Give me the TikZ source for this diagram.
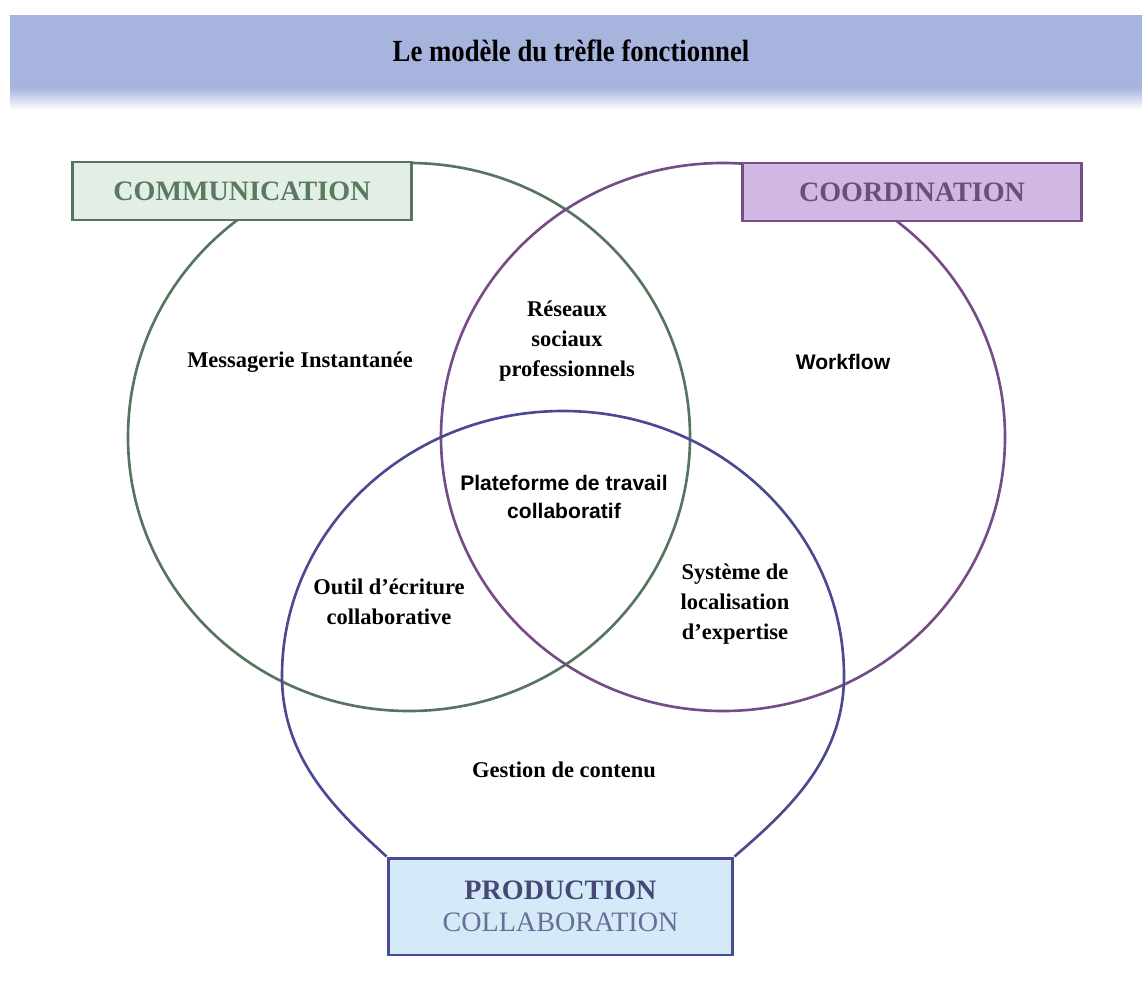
\documentclass[tikz,border=0pt]{standalone}
\usepackage{fontspec}
\setmainfont{Liberation Serif}
\newfontfamily\armfont{Liberation Sans}
\newfontfamily\ttlfont[FakeStretch=0.87]{Liberation Serif}
\usetikzlibrary{positioning}
\definecolor{band}{RGB}{166,180,222}
\definecolor{commline}{RGB}{86,116,94}
\definecolor{commfill}{RGB}{226,238,230}
\definecolor{commtext}{RGB}{88,122,94}
\definecolor{coordline}{RGB}{118,76,134}
\definecolor{coordfill}{RGB}{208,184,226}
\definecolor{coordtext}{RGB}{108,78,120}
\definecolor{prodline}{RGB}{74,74,146}
\definecolor{prodfill}{RGB}{212,234,248}
\definecolor{prodtext}{RGB}{72,72,118}
\definecolor{collabtext}{RGB}{105,110,150}
\begin{document}
\begin{tikzpicture}[x=0.02cm,y=-0.02cm]
\tikzset{ring/.style={line width=1.5pt},
         zone/.style={font=\fontsize{12.8}{17}\selectfont\bfseries, align=center},
         zonesans/.style={font=\armfont\fontsize{12}{16.4}\selectfont\bfseries, align=center},
         tag/.style={draw, line width=1.7pt, minimum width=6.8cm, minimum height=1.16cm, font=\fontsize{16}{18}\selectfont\bfseries}}
\useasboundingbox (0,0) rectangle (1142,990);
\fill[white] (0,0) rectangle (1142,990);
\fill[band] (10,15) rectangle (1142,88);
\shade[top color=band, bottom color=white] (10,87.5) rectangle (1142,110);
\node[font=\ttlfont\fontsize{17.5}{20}\selectfont\bfseries] (title) at (571,51) {Le modèle du trèfle fonctionnel};
\draw[ring, commline] (409,437) ellipse [x radius=281, y radius=274];
\draw[ring, coordline] (723,437) ellipse [x radius=282, y radius=274];
\node[tag, draw=commline, fill=commfill, text=commtext] (comm) at (242,191) {COMMUNICATION};
\node[tag, draw=coordline, fill=coordfill, text=coordtext] (coord) at (912,192) {COORDINATION};
\node[tag, draw=prodline, fill=prodfill, text=prodtext, minimum width=6.9cm, minimum height=1.94cm, align=center, font=\fontsize{16}{18.5}\selectfont] (prod) at (560.5,906.5) {\textbf{PRODUCTION}\\\textcolor{collabtext}{COLLABORATION}};
\draw[ring, prodline] (prod.north west) .. controls (338,812) and (282,760) .. (282,676)
  arc[start angle=180, end angle=360, x radius=281, y radius=265]
  .. controls (844,760) and (786,812) .. (prod.north east);
\node[zone] (msg) at (300,362) {Messagerie Instantanée};
\node[zone] (res) at (567,341) {Réseaux\\sociaux\\professionnels};
\node[zonesans] (wf) at (843,362) {Workflow};
\node[zonesans] (plat) at (564,497) {Plateforme de travail\\collaboratif};
\node[zone] (outil) at (389,602) {Outil d’écriture\\collaborative};
\node[zone] (sys) at (735,604) {Système de\\localisation\\d’expertise};
\node[zone] (gest) at (564,770) {Gestion de contenu};
\end{tikzpicture}
\end{document}
